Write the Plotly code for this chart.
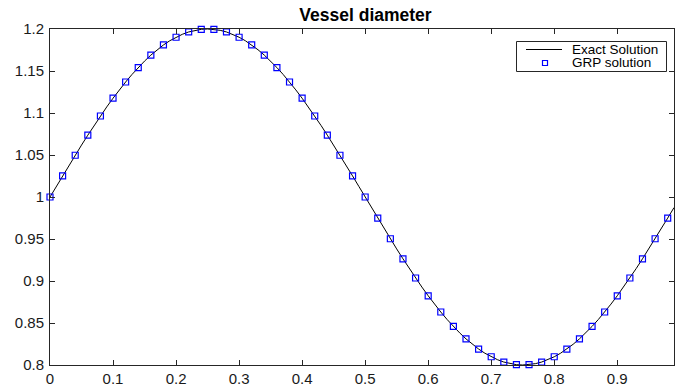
import plotly.graph_objects as go

# Exact solution sampled every 0.01
x_exact = [round(0.01 * i, 2) for i in range(100)]
y_exact = [
    1.0000, 1.0126, 1.0251, 1.0375, 1.0497, 1.0618, 1.0736, 1.0852, 1.0964, 1.1072,
    1.1176, 1.1275, 1.1369, 1.1458, 1.1541, 1.1618, 1.1689, 1.1753, 1.1810, 1.1860,
    1.1902, 1.1937, 1.1965, 1.1984, 1.1996, 1.2000, 1.1996, 1.1984, 1.1965, 1.1937,
    1.1902, 1.1860, 1.1810, 1.1753, 1.1689, 1.1618, 1.1541, 1.1458, 1.1369, 1.1275,
    1.1176, 1.1072, 1.0964, 1.0852, 1.0736, 1.0618, 1.0497, 1.0375, 1.0251, 1.0126,
    1.0000, 0.9874, 0.9749, 0.9625, 0.9503, 0.9382, 0.9264, 0.9148, 0.9036, 0.8928,
    0.8824, 0.8725, 0.8631, 0.8542, 0.8459, 0.8382, 0.8311, 0.8247, 0.8190, 0.8140,
    0.8098, 0.8063, 0.8035, 0.8016, 0.8004, 0.8000, 0.8004, 0.8016, 0.8035, 0.8063,
    0.8098, 0.8140, 0.8190, 0.8247, 0.8311, 0.8382, 0.8459, 0.8542, 0.8631, 0.8725,
    0.8824, 0.8928, 0.9036, 0.9148, 0.9264, 0.9382, 0.9503, 0.9625, 0.9749, 0.9874,
]

# GRP solution every 0.02
x_grp = [round(0.02 * i, 2) for i in range(50)]
y_grp = [
    1.0000, 1.0251, 1.0497, 1.0736, 1.0964, 1.1176, 1.1369, 1.1541, 1.1689, 1.1810,
    1.1902, 1.1965, 1.1996, 1.1996, 1.1965, 1.1902, 1.1810, 1.1689, 1.1541, 1.1369,
    1.1176, 1.0964, 1.0736, 1.0497, 1.0251, 1.0000, 0.9749, 0.9503, 0.9264, 0.9036,
    0.8824, 0.8631, 0.8459, 0.8311, 0.8190, 0.8098, 0.8035, 0.8004, 0.8004, 0.8035,
    0.8098, 0.8190, 0.8311, 0.8459, 0.8631, 0.8824, 0.9036, 0.9264, 0.9503, 0.9749,
]

x_tickvals = [0, 0.1, 0.2, 0.3, 0.4, 0.5, 0.6, 0.7, 0.8, 0.9]
x_ticktext = ["0", "0.1", "0.2", "0.3", "0.4", "0.5", "0.6", "0.7", "0.8", "0.9"]
y_tickvals = [0.8, 0.85, 0.9, 0.95, 1.0, 1.05, 1.1, 1.15, 1.2]
y_ticktext = ["0.8", "0.85", "0.9", "0.95", "1", "1.05", "1.1", "1.15", "1.2"]

FONT = "Liberation Sans, Arial, Helvetica, sans-serif"
AXC = "#262626"

fig = go.Figure()
fig.add_trace(go.Scatter(x=x_exact, y=y_exact, mode="lines", name="Exact Solution",
                         line=dict(color="black", width=1), showlegend=False))
fig.add_trace(go.Scatter(x=x_grp, y=y_grp, mode="markers", name="GRP solution",
                         marker=dict(symbol="square-open", size=6, color="#0000ff",
                                     line=dict(width=1.2, color="#0000ff")),
                         showlegend=False, cliponaxis=False))

axis_common = dict(showgrid=False, zeroline=False, showline=True, linecolor=AXC,
                   linewidth=1, mirror="ticks", ticks="inside", ticklen=5,
                   tickcolor=AXC, tickwidth=1,
                   tickfont=dict(family=FONT, size=15, color="#1a1a1a"))

fig.update_layout(
    width=675, height=389,
    margin=dict(l=50, r=1, t=29, b=24),
    paper_bgcolor="white", plot_bgcolor="white",
    title=dict(text="<b>Vessel diameter</b>", x=(365.5 / 675), xref="container", xanchor="center",
               y=1 - 15 / 389, yref="container", yanchor="middle",
               font=dict(family=FONT, size=17.5, color="black")),
    xaxis=dict(range=[0, 0.99], tickvals=x_tickvals, ticktext=x_ticktext, **axis_common),
    yaxis=dict(range=[0.8, 1.2], tickvals=y_tickvals, ticktext=y_ticktext,
               ticklabelstandoff=2, **axis_common),
)

# custom legend (MATLAB style compact box)
def px_x(p):
    return (p - 50) / 624

def px_y(p):
    return (365 - p) / 336

shapes = [
    dict(type="rect", xref="paper", yref="paper", x0=px_x(516.5), x1=px_x(666.5),
         y0=px_y(71.5), y1=px_y(41.5), line=dict(color=AXC, width=1), fillcolor="white", layer="above"),
    dict(type="line", xref="paper", yref="paper", x0=px_x(526), x1=px_x(562),
         y0=px_y(49.5), y1=px_y(49.5), line=dict(color="black", width=1), layer="above"),
    dict(type="rect", xref="paper", yref="paper", x0=px_x(542.5), x1=px_x(547.5),
         y0=px_y(65.5), y1=px_y(60.5), line=dict(color="#0000ff", width=1.2), layer="above"),
]
fig.update_layout(shapes=shapes)
fig.add_annotation(x=px_x(570), y=px_y(49.5), xref="paper", yref="paper", xanchor="left",
                   yanchor="middle", showarrow=False, text="Exact Solution",
                   font=dict(family=FONT, size=13.5, color="black"))
fig.add_annotation(x=px_x(570), y=px_y(63), xref="paper", yref="paper", xanchor="left",
                   yanchor="middle", showarrow=False, text="GRP solution",
                   font=dict(family=FONT, size=13.5, color="black"))

fig.write_html("out.html")
